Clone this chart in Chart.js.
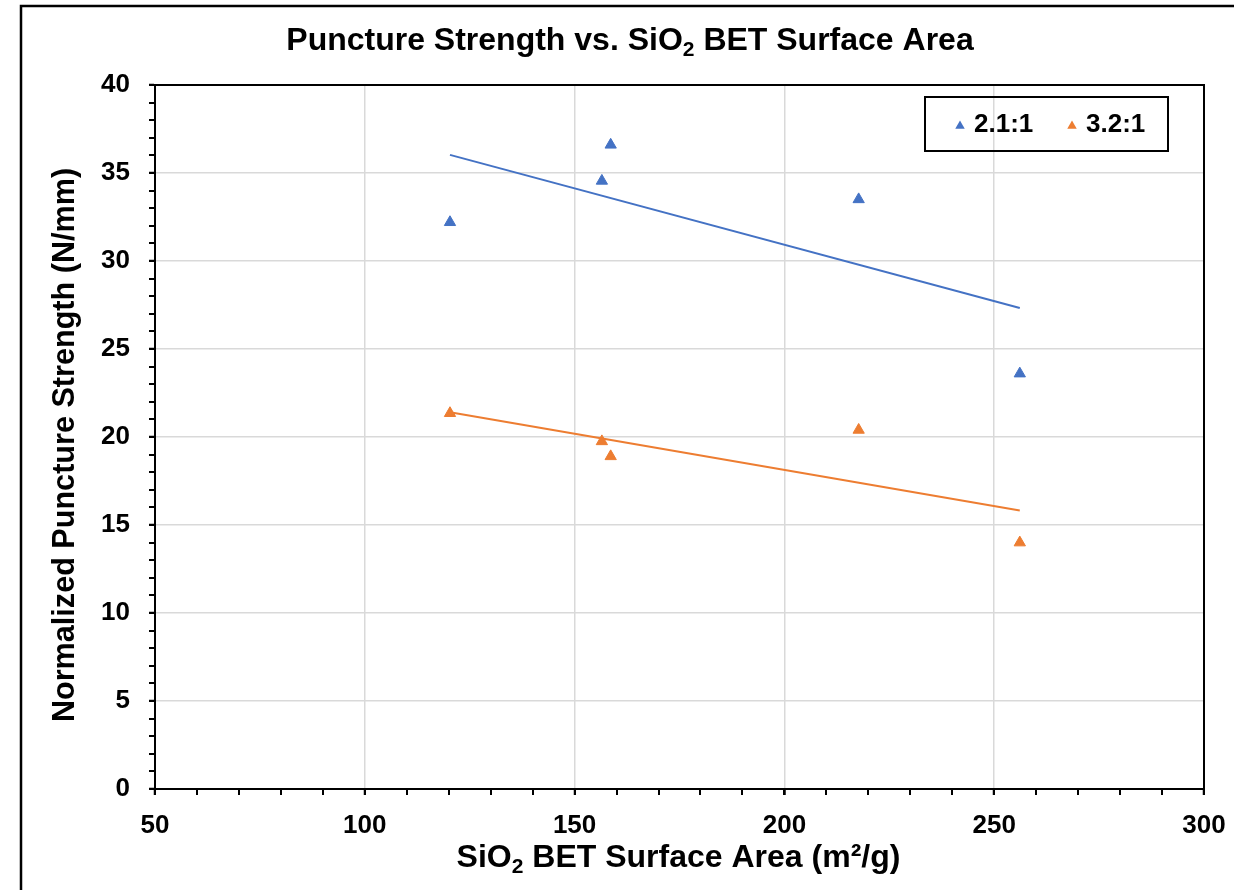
<!DOCTYPE html>
<html><head><meta charset="utf-8">
<script src="https://cdn.jsdelivr.net/npm/chart.js@4"></script>
<style>html,body{margin:0;padding:0;background:#fff;overflow:hidden}</style>
</head><body>
<canvas id="c" width="1234" height="890"></canvas>
<script>
// ---- data ----
const seriesLabels = ['2.1:1', '3.2:1'];
const surfaceArea = [120.3, 156.5, 158.6, 217.7, 256.1];
const strength21 = [32.2, 34.55, 36.6, 33.5, 23.6];
const strength32 = [21.35, 19.75, 18.9, 20.4, 14.0];
const trendX = [120.3, 256.1];
const trend21 = [36.03, 27.33];
const trend32 = [21.41, 15.82];
const yTickValues = [0, 5, 10, 15, 20, 25, 30, 35, 40];
const xTickValues = [50, 100, 150, 200, 250, 300];
const chartTitle = ['Puncture Strength vs. SiO', '2', ' BET Surface Area'];
const xTitle = ['SiO', '2', ' BET Surface Area (m²/g)'];
const yTitle = 'Normalized Puncture Strength (N/mm)';

const BLUE = '#4472C4', ORANGE = '#ED7D31';
const FONT = "'Liberation Sans', Arial, sans-serif";

function pts(xs, ys) { return xs.map((x, i) => ({x: x, y: ys[i]})); }

function drawSub(ctx, parts, cx, cy, size) {
  const big = 'bold ' + size + 'px ' + FONT;
  const small = 'bold ' + Math.round(size * 0.65) + 'px ' + FONT;
  let w = 0;
  parts.forEach((p, i) => { ctx.font = (i % 2 === 1) ? small : big; w += ctx.measureText(p).width; });
  let x = cx - w / 2;
  ctx.textBaseline = 'middle';
  ctx.textAlign = 'left';
  ctx.fillStyle = '#000';
  parts.forEach((p, i) => {
    const sub = (i % 2 === 1);
    ctx.font = sub ? small : big;
    ctx.fillText(p, x, sub ? cy + size * 0.3 : cy);
    x += ctx.measureText(p).width;
  });
}

function tri(ctx, x, y, r, color) {
  ctx.beginPath();
  for (let k = 0; k < 3; k++) {
    const a = k * 2 * Math.PI / 3;
    const px = x + Math.sin(a) * r, py = y - Math.cos(a) * r;
    if (k === 0) ctx.moveTo(px, py); else ctx.lineTo(px, py);
  }
  ctx.closePath();
  ctx.fillStyle = color;
  ctx.fill();
}

const decor = {
  id: 'decor',
  beforeDraw(chart) {
    const ctx = chart.ctx;
    ctx.save();
    ctx.fillStyle = '#fff';
    ctx.fillRect(0, 0, chart.width, chart.height);
    ctx.strokeStyle = '#000';
    ctx.lineWidth = 2.5;
    ctx.strokeRect(21, 6, 1240, 900);
    ctx.restore();
  },
  afterDraw(chart) {
    const ctx = chart.ctx;
    const a = chart.chartArea;
    const xs = chart.scales.x, ys = chart.scales.y;
    ctx.save();
    // plot frame
    ctx.strokeStyle = '#000';
    ctx.lineWidth = 2;
    ctx.strokeRect(a.left, a.top, a.right - a.left, a.bottom - a.top);
    // minor ticks
    ctx.lineWidth = 2;
    ctx.beginPath();
    for (let v = ys.min; v <= ys.max; v += 1) {
      const py = Math.round(ys.getPixelForValue(v));
      ctx.moveTo(a.left - 6, py); ctx.lineTo(a.left, py);
    }
    for (let v = xs.min; v <= xs.max; v += 10) {
      const px = Math.round(xs.getPixelForValue(v));
      ctx.moveTo(px, a.bottom); ctx.lineTo(px, a.bottom + 6);
    }
    ctx.stroke();
    // titles
    drawSub(ctx, chartTitle, 630, 41, 32);
    drawSub(ctx, xTitle, (a.left + a.right) / 2 - 1, 858, 32);
    ctx.save();
    ctx.translate(66, 445);
    ctx.rotate(-Math.PI / 2);
    ctx.font = 'bold 30.6px ' + FONT;
    ctx.textAlign = 'center';
    ctx.textBaseline = 'middle';
    ctx.fillStyle = '#000';
    ctx.fillText(yTitle, 0, 0);
    ctx.restore();
    // legend
    ctx.lineWidth = 2;
    ctx.strokeStyle = '#000';
    ctx.strokeRect(925, 97, 243, 54);
    ctx.font = 'bold 26px ' + FONT;
    ctx.textBaseline = 'middle';
    ctx.textAlign = 'left';
    const items = [[960, BLUE, seriesLabels[0]], [1072, ORANGE, seriesLabels[1]]];
    items.forEach(([lx, col, txt]) => {
      tri(ctx, lx, 126, 5.5, col);
      ctx.fillStyle = '#000';
      ctx.fillText(txt, lx + 14, 125);
    });
    ctx.restore();
  }
};

new Chart(document.getElementById('c'), {
  type: 'scatter',
  data: {
    datasets: [
      { label: seriesLabels[0], data: pts(surfaceArea, strength21), backgroundColor: BLUE, borderColor: BLUE,
        pointStyle: 'triangle', pointRadius: 6.5, borderWidth: 1 },
      { label: seriesLabels[1], data: pts(surfaceArea, strength32), backgroundColor: ORANGE, borderColor: ORANGE,
        pointStyle: 'triangle', pointRadius: 6.5, borderWidth: 1 },
      { label: 'trend1', data: pts(trendX, trend21), showLine: true, borderColor: BLUE, borderWidth: 2, pointRadius: 0 },
      { label: 'trend2', data: pts(trendX, trend32), showLine: true, borderColor: ORANGE, borderWidth: 2, pointRadius: 0 }
    ]
  },
  options: {
    responsive: false,
    animation: false,
    devicePixelRatio: 1,
    layout: { padding: { left: 0, right: 30, top: 85, bottom: 0 } },
    plugins: { legend: { display: false }, title: { display: false }, tooltip: { enabled: false } },
    scales: {
      x: {
        type: 'linear', min: xTickValues[0], max: xTickValues[xTickValues.length - 1],
        afterBuildTicks(s) { s.ticks = xTickValues.map(v => ({value: v})); },
        afterFit(s) { s.height = 101; s.paddingRight = 0; s.paddingLeft = 0; },
        grid: { color: '#d9d9d9', lineWidth: 1.5, tickColor: '#000', tickLength: 6, tickWidth: 2 },
        border: { color: '#000', width: 2 },
        ticks: { color: '#000', padding: 15, font: { family: FONT, size: 26, weight: 'bold' } }
      },
      y: {
        type: 'linear', min: yTickValues[0], max: yTickValues[yTickValues.length - 1],
        afterBuildTicks(s) { s.ticks = yTickValues.map(v => ({value: v})); },
        afterFit(s) { s.width = 155; s.paddingTop = 0; s.paddingBottom = 0; },
        grid: { color: '#d9d9d9', lineWidth: 1.5, tickColor: '#000', tickLength: 6, tickWidth: 2 },
        border: { color: '#000', width: 2 },
        ticks: { color: '#000', padding: 19, font: { family: FONT, size: 26, weight: 'bold' } }
      }
    }
  },
  plugins: [decor]
});
</script>
</body></html>
